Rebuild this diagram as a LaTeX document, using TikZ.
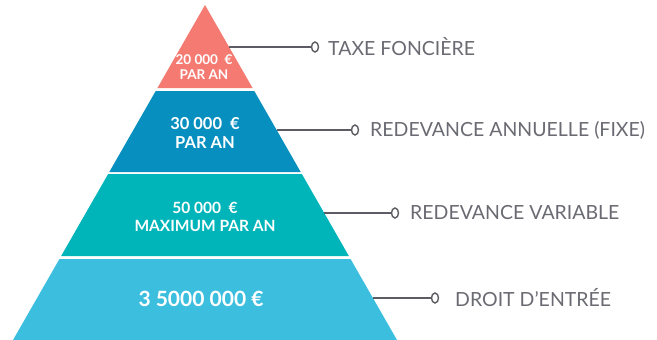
\documentclass[tikz,border=0pt]{standalone}
\usepackage{fontspec}
\setmainfont{Lato}
\usetikzlibrary{calc,positioning}
\usepgflibrary{shapes.geometric}
\definecolor{rojo}{HTML}{F47A72}
\definecolor{azul}{HTML}{0790BF}
\definecolor{turquesa}{HTML}{00B5BA}
\definecolor{celeste}{HTML}{3CBFDF}
\definecolor{linea}{HTML}{5C5C64}
\definecolor{gris}{HTML}{6A6A72}

\begin{document}
\begin{tikzpicture}[x=1pt,y=-1pt,
  valor/.style={text=white, align=center, inner sep=0pt, font=\bfseries\fontsize{#1}{#1}\selectfont},
  etiqueta/.style={text=gris, anchor=west, inner sep=0pt, font=\fontsize{19.5}{20}\selectfont},
  anillo/.style={ellipse, draw=linea, line width=1.4pt, fill=white, minimum width=7pt, minimum height=10pt, inner sep=0pt},
  conector/.style={draw=linea, line width=2pt}]
  \useasboundingbox (0,0) rectangle (657,340);

  % Piramide: bandas (arriba/abajo/color)
  \def\k{0.5731}
  \foreach \t/\b/\c in {5/88/rojo, 91/172/azul, 174/256/turquesa, 259/340/celeste}
    \fill[\c] ({205-\k*(\t-5)},\t) -- ({205+\k*(\t-5)},\t)
      -- ({205+\k*(\b-5)},\b) -- ({205-\k*(\b-5)},\b) -- cycle;

  % Valores
  \node[valor=13.5] (v1) at (204,67) {20 000 \ €\\[1pt]PAR AN};
  \node[valor=16.5] (v2) at (205,133) {30 000 \ €\\[3pt]PAR AN};
  \node[valor=15.5] (v3) at (205,217) {50 000 \ €\\[2pt]MAXIMUM PAR AN};
  \node[valor=21] (v4) at (201,299) {3 5000 000 €};

  % Conectores
  \foreach \n/\y/\cx in {1/47/315, 2/130/355, 3/213/395, 4/298/435} {
    \coordinate (s\n) at ({205+\k*(\y-5)},\y);
    \node[anillo] (c\n) at (\cx,\y) {};
    \draw[conector] (s\n) -- (c\n.west);
  }

  % Etiquetas
  \node[etiqueta] (e1) at (328,47) {TAXE FONCIÈRE};
  \node[etiqueta] (e2) at (370,130) {REDEVANCE ANNUELLE (FIXE)};
  \node[etiqueta] (e3) at (410,213) {REDEVANCE VARIABLE};
  \node[etiqueta] (e4) at (455,298) {DROIT D’ENTRÉE};
\end{tikzpicture}
\end{document}
